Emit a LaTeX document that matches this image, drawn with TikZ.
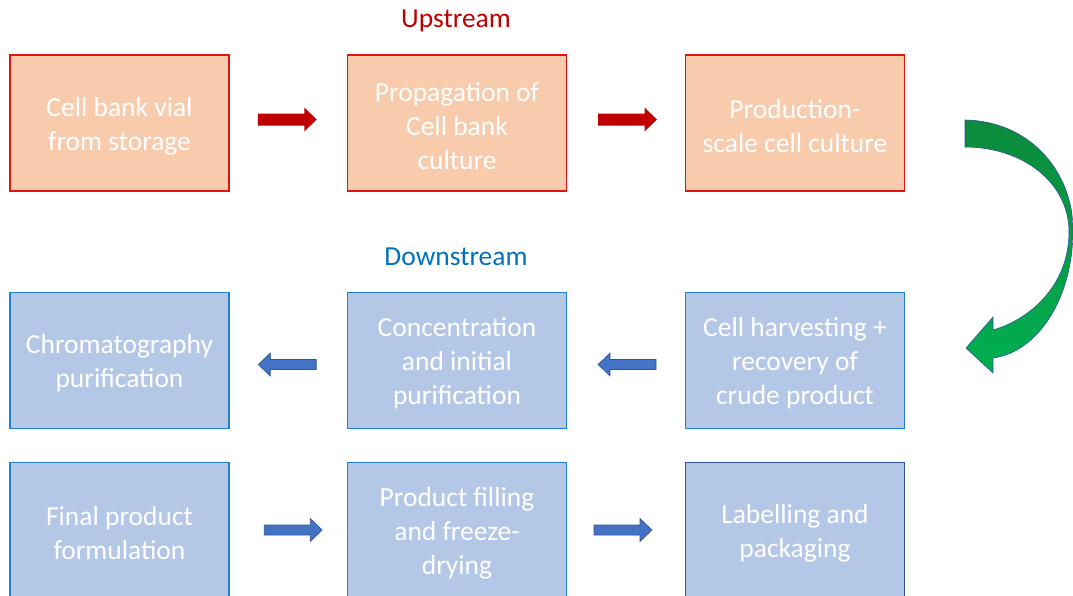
\documentclass[tikz,border=0pt]{standalone}
\usepackage{fontspec}
\setmainfont{Carlito}
\usetikzlibrary{calc}
\definecolor{orfill}{HTML}{F8CBAD}
\definecolor{orline}{HTML}{E3140F}
\definecolor{blfill}{HTML}{B4C7E7}
\definecolor{blline}{HTML}{1F80D0}
\definecolor{blline2}{HTML}{2F5597}
\definecolor{upred}{HTML}{C00000}
\definecolor{downblue}{HTML}{0070C0}
\definecolor{arrred}{HTML}{C00000}
\definecolor{arrblue}{HTML}{4472C4}
\definecolor{gdark}{HTML}{0B8A3B}
\definecolor{glight}{HTML}{00B050}
\tikzset{
  boxtext/.style={align=center, text=white, font=\fontsize{27.5}{34}\selectfont, inner sep=0pt, yshift=-3pt},
  box/.style={rectangle, minimum width=219pt, minimum height=136pt, inner sep=0pt, line width=1.3pt},
  upbox/.style={box, fill=orfill, draw=orline},
  downbox/.style={box, fill=blfill, draw=blline},
  title/.style={font=\fontsize{27.5}{34}\selectfont},
  redarrow/.style={fill=arrred, draw=none},
  bluearrow/.style={fill=arrblue, draw=blline2, line width=0.6pt},
  pics/rblock/.style={code={
    \path[pic actions] (-29.5,-6) -- (17,-6) -- (17,-12) -- (29.5,0) -- (17,12) -- (17,6) -- (-29.5,6) -- cycle;}},
  pics/lblock/.style={code={
    \path[pic actions] (29,-5) -- (-17,-5) -- (-17,-11.5) -- (-29,0) -- (-17,11.5) -- (-17,5) -- (29,5) -- cycle;}},
  pics/rblockb/.style={code={
    \path[pic actions] (-29,-5) -- (17,-5) -- (17,-11.5) -- (29,0) -- (17,11.5) -- (17,5) -- (-29,5) -- cycle;}}
}
\begin{document}
\begin{tikzpicture}[x=1pt,y=-1pt]
\useasboundingbox (0,0) rectangle (1073,595);
\begin{scope}
\clip (0,0) rectangle (1073,595);
% titles
\node[title, text=upred] (up) at (456,21) {Upstream};
\node[title, text=downblue] (down) at (456,257) {Downstream};
% upstream boxes
\node[upbox, label={[boxtext]center:Cell bank vial\\from storage}] (u1) at (119.5,123) {};
\node[upbox, label={[boxtext]center:Propagation of\\Cell bank\\culture}] (u2) at (457,123) {};
\node[upbox, label={[boxtext]center:Production-\\scale cell culture}] (u3) at (795,123) {};
% downstream row 1
\node[downbox, label={[boxtext]center:Chromatography\\purification}] (d1) at (119.5,360.5) {};
\node[downbox, label={[boxtext]center:Concentration\\and initial\\purification}] (d2) at (457,360.5) {};
\node[downbox, label={[boxtext]center:Cell harvesting +\\recovery of\\crude product}] (d3) at (795,360.5) {};
% downstream row 2
\node[downbox, label={[boxtext]center:Final product\\formulation}] (e1) at (119.5,530.5) {};
\node[downbox, label={[boxtext]center:Product filling\\and freeze-\\drying}] (e2) at (457,530.5) {};
\node[downbox, draw=blline2, label={[boxtext]center:Labelling and\\packaging}] (e3) at (795,530.5) {};
% block arrows
\pic[redarrow] (a1) at ($(u1.east)!0.5!(u2.west)+(-1,-3.5)$) {rblock};
\pic[redarrow] (a2) at ($(u2.east)!0.5!(u3.west)+(1.5,-3.5)$) {rblock};
\pic[bluearrow] (a3) at ($(d1.east)!0.5!(d2.west)+(-1,4)$) {lblock};
\pic[bluearrow] (a4) at ($(d2.east)!0.5!(d3.west)+(1,4)$) {lblock};
\pic[bluearrow] (a5) at ($(e1.east)!0.5!(e2.west)+(5,-0.5)$) {rblockb};
\pic[bluearrow] (a6) at ($(e2.east)!0.5!(e3.west)+(-3,-0.5)$) {rblockb};
% curved green arrow
\path[top color=gdark, bottom color=glight, draw=blline2, line width=0.6pt]
  (965,120) .. controls (1030,121) and (1073,172) .. (1073,230)
  .. controls (1073,298) and (1038,352) .. (993,358)
  -- (993,373) -- (966,348) -- (993,317) -- (993,330)
  .. controls (1034,318) and (1069,282) .. (1069,232)
  .. controls (1069,182) and (1022,147) .. (965,147) -- cycle;
\end{scope}
\end{tikzpicture}
\end{document}
